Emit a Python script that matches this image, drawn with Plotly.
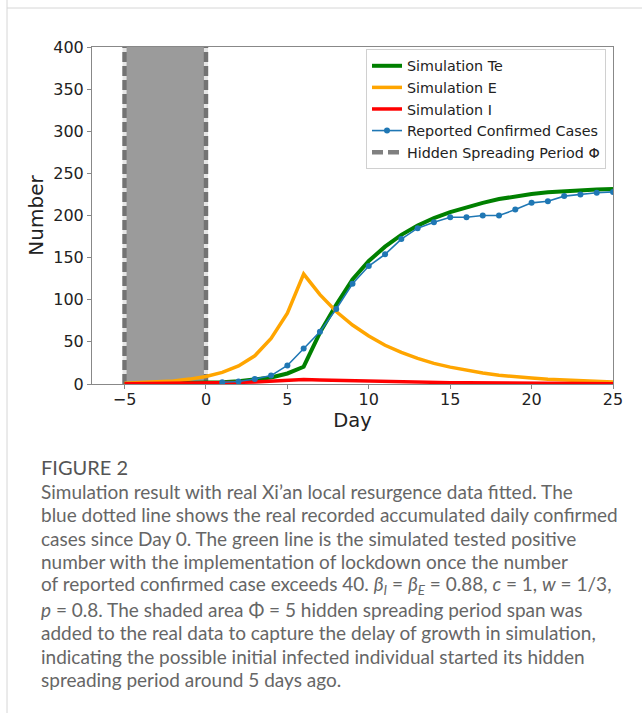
import plotly.graph_objects as go

# ---------------- data ----------------
sim_days = list(range(-5, 26))
sim_Te = [0.0, 0.2, 0.4, 0.7, 1.0, 1.5, 2.2, 3.2, 5.0, 7.8, 12.5, 20.5, 61, 94, 124, 146,
          163, 177, 188, 197, 204, 210, 215, 219.5, 223, 225.5, 227.5, 229, 230, 231, 231.5]
sim_E = [1.0, 1.5, 2.3, 3.5, 5.8, 9.0, 13.8, 21.5, 33.5, 54, 84, 130.5, 106, 86, 70, 57,
         46, 37.5, 30.5, 24.5, 20, 16, 13, 10.5, 8.5, 7.0, 5.6, 4.6, 3.7, 3.0, 2.5]
sim_I = [0.3, 0.4, 0.5, 0.7, 0.9, 1.2, 1.5, 1.9, 2.5, 3.2, 4.1, 5.2, 4.8, 4.3, 3.8, 3.3,
         2.9, 2.5, 2.2, 1.9, 1.6, 1.4, 1.2, 1.0, 0.9, 0.8, 0.7, 0.6, 0.5, 0.4, 0.35]
rep_days = list(range(1, 26))
reported = [2, 3, 6, 10, 22, 42, 62, 89, 119, 140, 154, 172, 185, 192, 198, 198, 200, 200,
            207, 215, 217, 223, 225, 227, 228]
hidden_start, hidden_end = -5, 0
x_ticks = [-5, 0, 5, 10, 15, 20, 25]
y_ticks = [0, 50, 100, 150, 200, 250, 300, 350, 400]
x_range = [-7, 25]
y_range = [0, 400]

caption_title = "FIGURE 2"
caption_lines = [
    "Simulation result with real Xi\u2019an local resurgence data fitted. The",
    "blue dotted line shows the real recorded accumulated daily confirmed",
    "cases since Day 0. The green line is the simulated tested positive",
    "number with the implementation of lockdown once the number",
    "of reported confirmed case exceeds 40. <i>\u03b2<sub>I</sub></i> = <i>\u03b2<sub>E</sub></i> = 0.88, <i>c</i> = 1, <i>w</i> = 1/3,",
    "<i>p</i> = 0.8. The shaded area \u03a6 = 5 hidden spreading period span was",
    "added to the real data to capture the delay of growth in simulation,",
    "indicating the possible initial infected individual started its hidden",
    "spreading period around 5 days ago.",
]

# ---------------- layout geometry ----------------
W, H = 642, 713
L, R, T, B = 92, 613, 47, 384


def px_x(x):
    return (x - L) / (R - L)


def px_y(y):
    return (B - y) / (B - T)


fig = go.Figure()
# dashed edges of the hidden spreading period (drawn beneath the data)
for xv in (hidden_start, hidden_end):
    fig.add_trace(go.Scatter(x=[xv, xv], y=y_range, mode="lines", showlegend=False,
                             hoverinfo="skip", line=dict(color="#e6e6e6", width=4)))
    fig.add_trace(go.Scatter(x=[xv, xv], y=y_range, mode="lines", showlegend=False,
                             hoverinfo="skip",
                             line=dict(color="#737373", width=4.5, dash="10px,4px")))
fig.add_trace(go.Scatter(x=sim_days, y=sim_Te, mode="lines", name="Simulation Te",
                         line=dict(color="#008000", width=4)))
fig.add_trace(go.Scatter(x=sim_days, y=sim_E, mode="lines", name="Simulation E",
                         line=dict(color="#FFA500", width=3.5)))
fig.add_trace(go.Scatter(x=sim_days, y=sim_I, mode="lines", name="Simulation I",
                         line=dict(color="#FF0000", width=3.5)))
fig.add_trace(go.Scatter(x=rep_days, y=reported, mode="lines+markers",
                         name="Reported Confirmed Cases",
                         line=dict(color="#1f77b4", width=1.6),
                         marker=dict(color="#1f77b4", size=6)))
fig.add_trace(go.Scatter(x=[None], y=[None], mode="lines", name="Hidden Spreading Period \u03a6",
                         line=dict(color="#808080", width=4.5, dash="11px,5px")))

# shaded hidden period
fig.add_shape(type="rect", xref="x", yref="paper", x0=hidden_start, x1=hidden_end, y0=0, y1=1,
              fillcolor="#9b9b9b", line=dict(width=0), layer="below")

# card border
fig.add_shape(type="line", xref="paper", yref="paper", x0=px_x(7), x1=px_x(7),
              y0=px_y(0), y1=px_y(H), line=dict(color="#d6d6d6", width=1))
fig.add_shape(type="line", xref="paper", yref="paper", x0=px_x(7), x1=px_x(W),
              y0=px_y(8), y1=px_y(8), line=dict(color="#d6d6d6", width=1))

# caption
cap_font = "Lato, 'Open Sans', sans-serif"
fig.add_annotation(text=caption_title, xref="paper", yref="paper", x=px_x(39), y=px_y(467),
                   xanchor="left", yanchor="middle", showarrow=False,
                   font=dict(family=cap_font, size=20, color="#555555"))
cap_y0, cap_dy = 491, 23.6
for i, line in enumerate(caption_lines):
    fig.add_annotation(text=line, xref="paper", yref="paper", x=px_x(39),
                       y=px_y(cap_y0 + i * cap_dy), xanchor="left", yanchor="middle",
                       showarrow=False,
                       font=dict(family=cap_font, size=19, color="#666666"))

axis_common = dict(showline=True, mirror=True, linecolor="#888888", linewidth=1,
                   ticks="outside", ticklen=4, tickcolor="#888888", showgrid=False,
                   zeroline=False, tickfont=dict(family="DejaVu Sans", size=16, color="#222222"))
fig.update_xaxes(range=x_range, tickvals=x_ticks, ticktext=[str(v).replace("-", "\u2212") for v in x_ticks],
                 ticklabelstandoff=-3,
                 title=dict(text="Day", font=dict(family="DejaVu Sans", size=19.5, color="#222222"),
                            standoff=0), **axis_common)
fig.update_yaxes(range=y_range, tickvals=y_ticks,
                 title=dict(text="Number", font=dict(family="DejaVu Sans", size=20, color="#222222"),
                            standoff=4), **axis_common)

fig.update_layout(
    width=W, height=H, autosize=False,
    margin=dict(l=L, r=W - R, t=T, b=H - B),
    paper_bgcolor="white", plot_bgcolor="white",
    showlegend=True,
    legend=dict(x=px_x(606), y=px_y(49), xanchor="right", yanchor="top",
                bgcolor="rgba(255,255,255,0.9)", bordercolor="#d0d0d0", borderwidth=1,
                font=dict(family="DejaVu Sans", size=14.3, color="#222222"),
                itemwidth=30, tracegroupgap=0),
)

fig.write_html("out.html")
